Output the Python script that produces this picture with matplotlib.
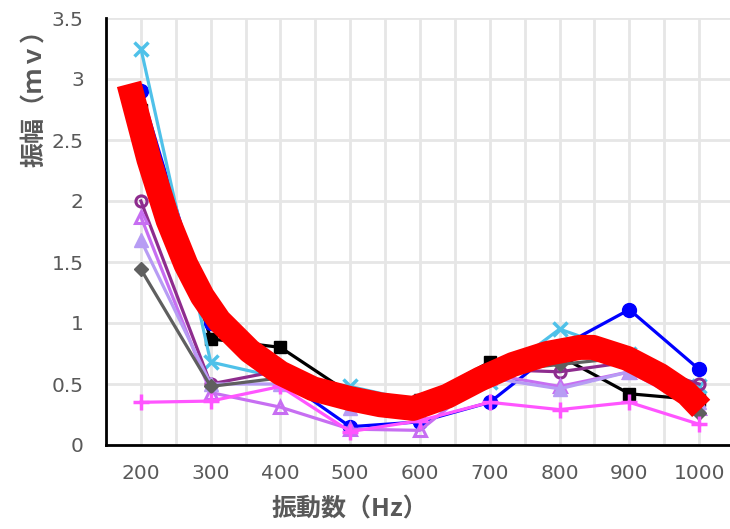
import numpy as np
import matplotlib.pyplot as plt

plt.rcParams['font.family'] = ['DejaVu Sans', 'Noto Sans CJK JP']

# frequency categories (Hz)
freqs = ['200', '300', '400', '500', '600', '700', '800', '900', '1000']

# amplitude series (mV)
s_black = [2.75, 0.87, 0.80, 0.42, 0.37, 0.68, 0.73, 0.42, 0.37]
s_blue = [2.90, 1.00, 0.55, 0.15, 0.19, 0.35, 0.80, 1.11, 0.62]
s_sky = [3.25, 0.68, 0.55, 0.48, 0.35, 0.52, 0.95, 0.75, 0.48]
s_purple = [2.00, 0.50, 0.61, 0.35, 0.28, 0.62, 0.60, 0.68, 0.50]
s_violet = [1.87, 0.43, 0.31, 0.13, 0.12, 0.58, 0.48, 0.60, 0.30]
s_lavender = [1.68, 0.50, 0.50, 0.30, 0.25, 0.55, 0.46, 0.60, 0.35]
s_gray = [1.44, 0.48, 0.55, 0.42, 0.32, 0.60, 0.66, 0.72, 0.26]
s_pink = [0.35, 0.36, 0.48, 0.11, 0.20, 0.35, 0.29, 0.35, 0.17]

# thick red trend curve, sampled along the category axis
trend_pos = [-0.17, 0.115, 0.39, 0.645, 0.88, 1.12, 1.56, 2.0, 2.47, 3.0, 3.43,
             3.9, 4.39, 4.86, 5.33, 5.82, 6.29, 6.48, 6.97, 7.44, 7.83, 8.03]
trend_val = [2.96, 2.34, 1.84, 1.48, 1.22, 1.02, 0.77, 0.59, 0.46, 0.38, 0.33,
             0.30, 0.40, 0.54, 0.66, 0.75, 0.80, 0.80, 0.71, 0.57, 0.42, 0.30]

fig = plt.figure(figsize=(7.3, 5.29), dpi=100)
ax = fig.add_axes([106 / 730, 1 - 445 / 529, 628 / 730, 427 / 529])

x = np.arange(len(freqs))
lw = 2.3
ax.plot(x, s_black, color='black', lw=lw, marker='s', ms=9)
ax.plot(x, s_blue, color='#0000FF', lw=lw, marker='o', ms=10)
ax.plot(x, s_sky, color='#4FC1E9', lw=lw, marker='x', ms=10, mew=2.5)
ax.plot(x, s_purple, color='#8E2C8E', lw=lw, marker='o', ms=8, mfc='none', mew=2.2)
ax.plot(x, s_violet, color='#C76EF2', lw=lw, marker='^', ms=9, mfc='none', mew=2.2)
ax.plot(x, s_lavender, color='#B79CF4', lw=lw, marker='^', ms=10)
ax.plot(x, s_gray, color='#5F5F5F', lw=lw, marker='D', ms=7)
ax.plot(x, s_pink, color='#FF55FF', lw=lw, marker='+', ms=11, mew=2.5)
ax.plot(trend_pos, trend_val, color='#FF0000', lw=18, solid_capstyle='butt',
        solid_joinstyle='round')

ax.set_xlim(-0.5, 8.5)
ax.set_ylim(0, 3.5)
ax.set_xticks(x)
ax.set_xticklabels(freqs)
ax.set_xticks(np.arange(-0.5, 9, 1), minor=True)
ax.set_yticks(np.arange(0, 3.51, 0.5))
ax.set_yticklabels(['0', '0.5', '1', '1.5', '2', '2.5', '3', '3.5'])

ax.grid(True, which='both', color='#E6E6E6', lw=2)
ax.set_axisbelow(True)
ax.tick_params(axis='x', which='both', length=0, labelsize=14.5,
               labelcolor='#595959', pad=14)
ax.tick_params(axis='y', length=0, labelsize=14.5, labelcolor='#595959', pad=16)

for side in ['top', 'right']:
    ax.spines[side].set_visible(False)
for side in ['left', 'bottom']:
    ax.spines[side].set_linewidth(2)
    ax.spines[side].set_color('black')

ax.set_ylabel('振幅（ｍｖ）', family=['Noto Sans CJK JP'], fontweight='bold',
              fontsize=18, color='#595959')
ax.yaxis.set_label_coords(-0.094, 0.827)
ax.set_xlabel('振動数（Hz）', family=['Noto Sans CJK JP'], fontweight='bold',
              fontsize=18, color='#595959')
ax.xaxis.set_label_coords(0.389, -0.122)

fig.savefig('out.png', dpi=100)
